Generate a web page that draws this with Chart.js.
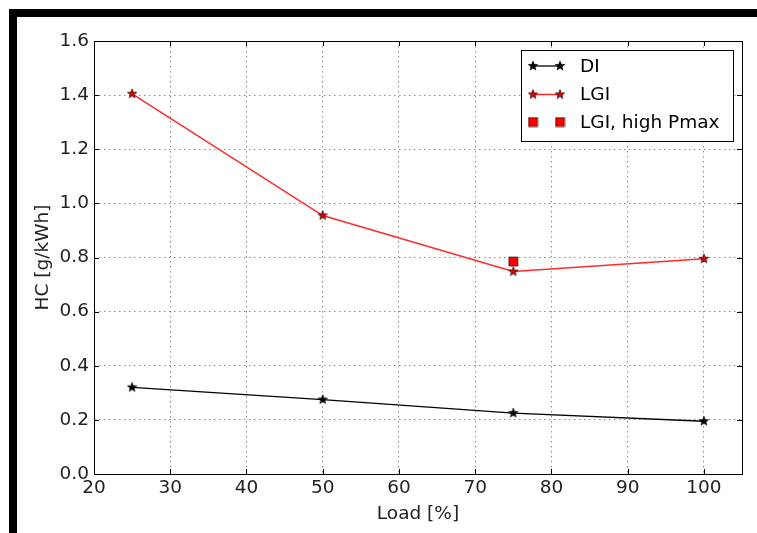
<!DOCTYPE html>
<html>
<head>
<meta charset="utf-8">
<script src="https://cdn.jsdelivr.net/npm/chart.js@4"></script>
<style>
  html, body { margin: 0; padding: 0; background: #fff; }
  #c { display: block; }
</style>
</head>
<body>
<canvas id="c" width="757" height="533"></canvas>
<script>
/* ---------- datos ---------- */
const loads    = [25, 50, 75, 100];
const diHC     = [0.32, 0.275, 0.225, 0.195];
const lgiHC    = [1.405, 0.955, 0.748, 0.795];
const pmaxLoad = [75];
const pmaxHC   = [0.785];
const xTicks   = [20, 30, 40, 50, 60, 70, 80, 90, 100];
const yTicks   = [0, 0.2, 0.4, 0.6, 0.8, 1.0, 1.2, 1.4, 1.6];
const names    = ['DI', 'LGI', 'LGI, high Pmax'];

const FONT = 'DejaVu Sans';
const pts  = (xs, ys) => xs.map((x, i) => ({x, y: ys[i]}));

/* ---------- marcadores ---------- */
function starImg(fill, r){
  const s = Math.ceil(r*2 + 2), c = document.createElement('canvas');
  c.width = c.height = s;
  const g = c.getContext('2d');
  g.beginPath();
  for(let i=0;i<10;i++){
    const a = -Math.PI/2 + i*Math.PI/5, rad = i%2 ? r*0.42 : r;
    g.lineTo(s/2 + rad*Math.cos(a), s/2 + rad*Math.sin(a));
  }
  g.closePath();
  g.fillStyle = fill; g.fill();
  g.strokeStyle = '#000'; g.lineWidth = 0.6; g.stroke();
  return c;
}
function squareImg(fill, w){
  const s = w + 2, c = document.createElement('canvas');
  c.width = c.height = s;
  const g = c.getContext('2d');
  g.fillStyle = fill; g.fillRect(1, 1, w, w);
  g.strokeStyle = '#000'; g.lineWidth = 0.6; g.strokeRect(1, 1, w, w);
  return c;
}
const starK = starImg('#000', 5);
const starR = starImg('#e00000', 5);
const sqR   = squareImg('#ff0000', 9);

/* ---------- plugins ---------- */
const frame = {
  id: 'frame',
  beforeDraw(ch){
    const g = ch.ctx;
    g.save();
    g.fillStyle = '#fff'; g.fillRect(0, 0, ch.width, ch.height);
    g.fillStyle = '#000';
    g.fillRect(9, 9, ch.width - 9, 8);
    g.fillRect(9, 9, 8, ch.height - 9);
    g.restore();
  },
  afterDraw(ch){
    const g = ch.ctx, a = ch.chartArea, sx = ch.scales.x, sy = ch.scales.y;
    g.save();
    g.strokeStyle = '#000'; g.lineWidth = 1;
    g.strokeRect(Math.round(a.left)+0.5, Math.round(a.top)+0.5,
                 Math.round(a.right-a.left), Math.round(a.bottom-a.top));
    g.beginPath();
    xTicks.forEach(v => {
      const x = Math.round(sx.getPixelForValue(v)) + 0.5;
      g.moveTo(x, a.bottom); g.lineTo(x, a.bottom - 5);
      g.moveTo(x, a.top);    g.lineTo(x, a.top + 5);
    });
    yTicks.forEach(v => {
      const y = Math.round(sy.getPixelForValue(v)) + 0.5;
      g.moveTo(a.left, y);  g.lineTo(a.left + 5, y);
      g.moveTo(a.right, y); g.lineTo(a.right - 5, y);
    });
    g.stroke();

    /* leyenda estilo matplotlib */
    const L = 521, T = 50, R = 733, B = 141;
    g.fillStyle = '#fff'; g.fillRect(L, T, R-L, B-T);
    g.strokeRect(L+0.5, T+0.5, R-L, B-T);
    const rows = [66, 94.5, 122];
    const ds = ch.data.datasets;
    ds.forEach((d, i) => {
      const y = rows[i];
      if(d.showLine){
        g.strokeStyle = d.borderColor; g.lineWidth = d.borderWidth;
        g.beginPath(); g.moveTo(533, y); g.lineTo(560, y); g.stroke();
      }
      const im = d.pointStyle;
      [533, 560].forEach(x => g.drawImage(im, x - im.width/2, y - im.height/2));
      g.fillStyle = '#000';
      g.font = `18.5px "${FONT}"`;
      g.textBaseline = 'middle'; g.textAlign = 'left';
      g.fillText(names[i], 580, y + 1);
    });
    g.restore();
  }
};

/* ---------- gráfico ---------- */
const tickFont = {family: FONT, size: 18.5};
const grid   = {color: 'rgba(0,0,0,0.45)', lineWidth: 1, drawTicks: false};
const border = {display: false, dash: [1.5, 3.5]};

new Chart(document.getElementById('c'), {
  type: 'scatter',
  data: {
    datasets: [
      {label: names[0], data: pts(loads, diHC), showLine: true,
       borderColor: '#000', borderWidth: 1.3, pointStyle: starK, pointRadius: 5},
      {label: names[1], data: pts(loads, lgiHC), showLine: true,
       borderColor: '#ff2a2a', borderWidth: 1.5, pointStyle: starR, pointRadius: 5},
      {label: names[2], data: pts(pmaxLoad, pmaxHC), showLine: false,
       borderColor: '#ff0000', pointStyle: sqR, pointRadius: 5}
    ]
  },
  options: {
    responsive: false,
    animation: false,
    layout: {padding: {left: 0, top: 41, right: 15, bottom: 0}},
    plugins: {legend: {display: false}, tooltip: {enabled: false}},
    elements: {line: {tension: 0}},
    scales: {
      x: {
        type: 'linear', min: 20, max: 105,
        afterBuildTicks: s => { s.ticks = xTicks.map(v => ({value: v})); },
        afterFit: s => { s.height = 59; },
        grid, border,
        ticks: {font: tickFont, color: '#222', padding: 3, maxRotation: 0},
        title: {display: true, text: 'Load [%]', font: tickFont, color: '#222', padding: {top: 0, bottom: 8}}
      },
      y: {
        type: 'linear', min: 0, max: 1.6,
        afterBuildTicks: s => { s.ticks = yTicks.map(v => ({value: v})); },
        afterFit: s => { s.width = 94; },
        grid, border,
        ticks: {font: tickFont, color: '#222', padding: 5, callback: v => v.toFixed(1)},
        title: {display: true, text: 'HC [g/kWh]', font: tickFont, color: '#222', padding: {top: 32, bottom: 0}}
      }
    }
  },
  plugins: [frame]
});
</script>
</body>
</html>
